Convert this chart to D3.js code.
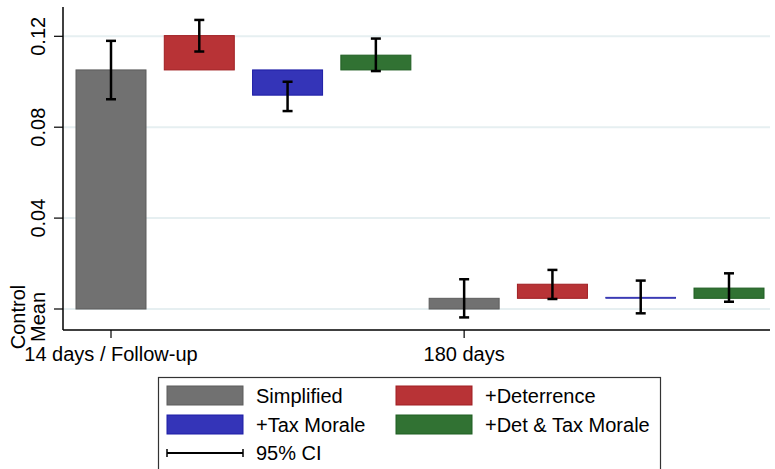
<!DOCTYPE html>
<html>
<head>
<meta charset="utf-8">
<script src="https://cdn.jsdelivr.net/npm/d3@7"></script>
<style>
  html, body { margin: 0; padding: 0; background: #fff; }
  svg { display: block; font-family: "Liberation Sans", Arial, sans-serif; }
</style>
</head>
<body>
<svg id="chart" width="775" height="469"></svg>
<script>
// Horizons of measurement
const groups = ["14 days / Follow-up", "180 days"];
// Treatment arms
const series = ["Simplified", "+Deterrence", "+Tax Morale", "+Det & Tax Morale"];
const colors = ["#717171", "#b83336", "#3434b8", "#317233"];
const strokes = ["#5c5c5c", "#a01e22", "#1c1ca6", "#1f5e22"];

// Simplified arm level (relative to control mean); other arms start from it
const simplifiedLevel = [0.1052, 0.0047];
// Top of each arm's bar, per horizon
const armTop = [
  [0.1052, 0.0047],
  [0.1203, 0.0109],
  [0.0941, 0.0052],
  [0.1117, 0.0092]
];
// 95% confidence intervals, per horizon
const ciLow = [
  [0.0923, -0.0037],
  [0.1133, 0.0044],
  [0.0871, -0.0019],
  [0.1047, 0.0032]
];
const ciHigh = [
  [0.1180, 0.0131],
  [0.1272, 0.0172],
  [0.1000, 0.0125],
  [0.1190, 0.0157]
];
const yTicks = [0, 0.04, 0.08, 0.12];
const yTickLabels = ["Control\nMean", "0.04", "0.08", "0.12"];

const svg = d3.select("#chart");
const axisX = 63, axisBottom = 330, axisTop = 7, plotRight = 770;

const y = d3.scaleLinear().domain([0, 0.12]).range([309, 36.3]);

// One slot per (horizon, arm)
const slots = [];
groups.forEach((g, gi) => series.forEach((s, si) => slots.push({ g, gi, s, si })));
const x = d3.scalePoint().domain(d3.range(slots.length)).range([111, 729]);
const barW = 70;

// gridlines
svg.append("g").selectAll("line").data(yTicks).join("line")
  .attr("x1", axisX).attr("x2", plotRight)
  .attr("y1", d => y(d)).attr("y2", d => y(d))
  .attr("stroke", "#e6eff1").attr("stroke-width", 2);

// bars
const marks = slots.map((d, i) => {
  const base = d.si === 0 ? 0 : simplifiedLevel[d.gi];
  const top = armTop[d.si][d.gi];
  return {
    ...d, i,
    lo: Math.min(base, top), hi: Math.max(base, top),
    cl: ciLow[d.si][d.gi], ch: ciHigh[d.si][d.gi]
  };
});

svg.append("g").selectAll("rect").data(marks).join("rect")
  .attr("x", d => x(d.i) - barW / 2)
  .attr("width", barW)
  .attr("y", d => y(d.hi))
  .attr("height", d => Math.max(0.01, y(d.lo) - y(d.hi)))
  .attr("fill", d => colors[d.si])
  .attr("stroke", d => strokes[d.si])
  .attr("stroke-width", d => (y(d.lo) - y(d.hi)) < 3 ? 0.6 : 1);

// confidence intervals
const ci = svg.append("g").attr("stroke", "#000").attr("stroke-width", 2.5);
marks.forEach(d => {
  const cx = x(d.i);
  ci.append("line").attr("x1", cx).attr("x2", cx).attr("y1", y(d.cl)).attr("y2", y(d.ch));
  ci.append("line").attr("x1", cx - 5).attr("x2", cx + 5).attr("y1", y(d.cl)).attr("y2", y(d.cl));
  ci.append("line").attr("x1", cx - 5).attr("x2", cx + 5).attr("y1", y(d.ch)).attr("y2", y(d.ch));
});

// axes lines
svg.append("line").attr("x1", axisX).attr("x2", axisX).attr("y1", axisTop).attr("y2", axisBottom)
  .attr("stroke", "#000").attr("stroke-width", 1.5);
svg.append("line").attr("x1", axisX).attr("x2", plotRight).attr("y1", axisBottom).attr("y2", axisBottom)
  .attr("stroke", "#000").attr("stroke-width", 1.5);

// y ticks and labels
const yg = svg.append("g");
yTicks.forEach((t, k) => {
  yg.append("line").attr("x1", axisX - 9).attr("x2", axisX).attr("y1", y(t)).attr("y2", y(t))
    .attr("stroke", "#000").attr("stroke-width", 1.2);
  const lines = yTickLabels[k].split("\n");
  const cy = lines.length > 1 ? y(t) + 8 : y(t);
  lines.forEach((ln, li) => {
    const bx = 45 - (lines.length - 1 - li) * 20;
    yg.append("text")
      .attr("transform", `translate(${bx},${cy}) rotate(-90)`)
      .attr("text-anchor", "middle")
      .attr("font-size", 20).attr("fill", "#000")
      .text(ln);
  });
});

// x ticks and labels (one per horizon, at the Simplified bar)
groups.forEach((g, gi) => {
  const cx = x(gi * series.length);
  svg.append("line").attr("x1", cx).attr("x2", cx).attr("y1", axisBottom).attr("y2", axisBottom + 8)
    .attr("stroke", "#000").attr("stroke-width", 1.2);
  svg.append("text").attr("x", cx).attr("y", 361).attr("text-anchor", "middle")
    .attr("font-size", 20).attr("fill", "#000").text(g);
});

// legend
const lg = svg.append("g");
lg.append("rect").attr("x", 158.5).attr("y", 377.5).attr("width", 502).attr("height", 110)
  .attr("fill", "#fff").attr("stroke", "#333").attr("stroke-width", 1.2);
const legendPos = [[167, 386], [396, 386], [167, 415], [396, 415]];
series.forEach((s, si) => {
  const [lx, ly] = legendPos[si];
  lg.append("rect").attr("x", lx).attr("y", ly).attr("width", 76).attr("height", 19)
    .attr("fill", colors[si]).attr("stroke", strokes[si]).attr("stroke-width", 1);
  lg.append("text").attr("x", lx + 89).attr("y", ly + 17).attr("font-size", 20).attr("fill", "#000").text(s);
});
lg.append("line").attr("x1", 167).attr("x2", 243).attr("y1", 453).attr("y2", 453)
  .attr("stroke", "#000").attr("stroke-width", 2);
[167, 243].forEach(px => lg.append("line").attr("x1", px).attr("x2", px).attr("y1", 449).attr("y2", 457)
  .attr("stroke", "#000").attr("stroke-width", 1.5));
lg.append("text").attr("x", 256).attr("y", 460).attr("font-size", 20).attr("fill", "#000").text("95% CI");
</script>
</body>
</html>
